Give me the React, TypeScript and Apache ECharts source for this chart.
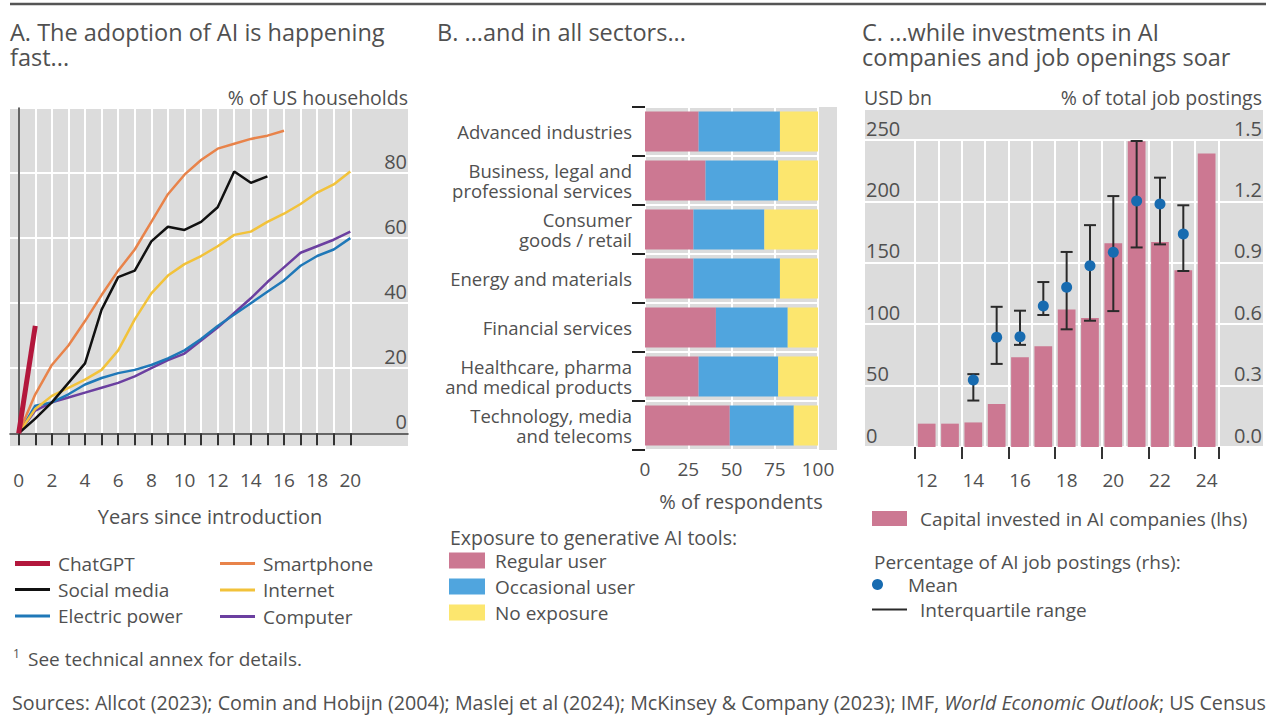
import React, { useEffect, useRef } from "react";
import * as echarts from "echarts";

const FONT = '"Open Sans", "Noto Sans", sans-serif';
const TXT = "#505050";
const GRAY = "#dcdcdc";
const FS = 19;

// ---------- Panel A: adoption curves (% of US households) ----------
const yearsA = [0, 1, 2, 3, 4, 5, 6, 7, 8, 9, 10, 11, 12, 13, 14, 15, 16, 17, 18, 19, 20];
const chatgpt = [0, 33];
const socialMedia = [0, 4.5, 9.5, 15.5, 21.5, 38, 48, 50, 59, 63.5, 62.5, 65, 69.5, 80.5, 77, 79];
const electricPower = [0, 8.5, 9.5, 12, 15, 17, 18.5, 19.5, 21, 23, 25.5, 29, 33, 36.5, 40, 43.5, 47, 51.5, 54.5, 56.5, 60];
const smartphone = [0, 12, 21, 27, 34.5, 42.5, 50, 56.5, 65, 73.5, 79.5, 84, 87.5, 89, 90.5, 91.5, 93];
const internet = [0, 7.5, 11.5, 14, 16.5, 19.5, 25.5, 35, 43, 48.5, 52, 54.5, 57.5, 61, 62, 65, 67.5, 70.5, 74, 76.5, 80.5];
const computer = [0, 7, 9.5, 11, 12.5, 14, 15.5, 17.5, 20, 22.5, 24.5, 28.5, 32.5, 37, 41.5, 46.5, 51, 55.5, 57.5, 59.5, 62];

// ---------- Panel B: exposure by sector (% of respondents) ----------
const sectors = [
  "Advanced industries",
  "Business, legal and\nprofessional services",
  "Consumer\ngoods / retail",
  "Energy and materials",
  "Financial services",
  "Healthcare, pharma\nand medical products",
  "Technology, media\nand telecoms",
];
const regularUser = [31, 35, 28, 28, 41, 31, 49];
const occasionalUser = [47, 42, 41, 50, 41.5, 46, 37];
const noExposure = [22, 23, 31, 22, 17.5, 23, 14];

// ---------- Panel C: investment and job postings ----------
const yearsC = ["12", "13", "14", "15", "16", "17", "18", "19", "20", "21", "22", "23", "24"];
const capital = [19, 19, 20, 35, 73, 82, 112, 105, 166, 249, 167, 144, 239];
const meanShare = [null, null, 0.327, 0.536, 0.539, 0.689, 0.78, 0.886, 0.951, 1.202, 1.187, 1.041, null];
const iqrLow = [null, null, 0.227, 0.406, 0.499, 0.645, 0.575, 0.617, 0.664, 0.975, 0.99, 0.86, null];
const iqrHigh = [null, null, 0.356, 0.685, 0.666, 0.806, 0.953, 1.084, 1.226, 1.495, 1.316, 1.181, null];

const C_PINK = "#cc7892";
const C_BLUE = "#50a5de";
const C_YELLOW = "#fce66e";

const pairs = (vals: number[]) => vals.map((v, i) => [yearsA[i], v]);

function txt(text: string, x: number, y: number, size: number, align = "left", extra: any = {}) {
  return {
    type: "text",
    x,
    y,
    z: 10,
    style: {
      text,
      fill: TXT,
      fontSize: size,
      fontFamily: FONT,
      align,
      textAlign: align,
      verticalAlign: "middle",
      textVerticalAlign: "middle",
      ...extra,
    },
  };
}

const legendText = (pad: number) => ({
  fontSize: FS, color: TXT, lineHeight: 18, fontFamily: FONT, padding: [0, 0, 0, pad],
});

export default function App() {
  const ref = useRef<HTMLDivElement>(null);
  useEffect(() => {
    if (!ref.current) return;
    const chart = echarts.init(ref.current, null, { renderer: "svg" });
    const lineSeries = (name: string, vals: number[], color: string, width = 2.5) => ({
      name,
      type: "line",
      xAxisIndex: 0,
      yAxisIndex: 0,
      data: pairs(vals),
      symbol: "none",
      showSymbol: false,
      lineStyle: { color, width },
      itemStyle: { color },
      z: 3,
    });
    const lineLegend = (names: string[], left: number, top: number, h: number, gap: number) => ({
      data: names, left, top, orient: "vertical", padding: 0, icon: "rect",
      itemWidth: 35, itemHeight: h, itemGap: gap, selectedMode: false,
      textStyle: legendText(3),
    });
    const option: any = {
      animation: false,
      textStyle: { fontFamily: FONT },
      grid: [
        { left: 18.7, top: 108, width: 331.6, height: 325.3 },
        { left: 10, top: 108, width: 398, height: 325.3 },
        { left: 645, top: 107, width: 173, height: 343 },
        { left: 865, top: 140, width: 398, height: 307 },
        { left: 915, top: 140, width: 303.3, height: 307 },
      ],
      xAxis: [
        {
          gridIndex: 0, type: "value", min: 0, max: 20, interval: 1, offset: 20,
          axisLine: { show: false },
          axisTick: { show: true, length: 12, lineStyle: { color: "#333", width: 2 } },
          axisLabel: { margin: 17, fontSize: FS, color: TXT, formatter: (v: number) => (v % 2 === 0 ? String(v) : "") },
          splitLine: { show: true, lineStyle: { color: "#fff", width: 2 } },
        },
        {
          gridIndex: 1, type: "value", min: 0, max: 1,
          axisLine: { show: true, lineStyle: { color: "#333", width: 1.5 } },
          axisTick: { show: false }, axisLabel: { show: false }, splitLine: { show: false },
        },
        {
          gridIndex: 2, type: "value", min: 0, max: 100, interval: 25,
          axisLine: { show: false }, axisTick: { show: false },
          axisLabel: { margin: 9, fontSize: FS, color: TXT },
          splitLine: { show: true, lineStyle: { color: "#fff", width: 2 } },
        },
        { gridIndex: 3, type: "value", min: 0, max: 1, show: false },
        {
          gridIndex: 4, type: "category", data: yearsC, offset: 6,
          axisLine: { show: false },
          axisTick: { show: true, length: 12, lineStyle: { color: "#333", width: 2 } },
          axisLabel: { interval: 1, margin: 17, fontSize: FS, color: TXT },
          splitLine: { show: true, interval: 0, lineStyle: { color: "#fff", width: 2 } },
        },
      ],
      yAxis: [
        {
          gridIndex: 0, type: "value", min: 0, max: 100,
          axisLine: { show: true, lineStyle: { color: "#333", width: 1.5 } },
          axisTick: { show: false }, axisLabel: { show: false }, splitLine: { show: false },
        },
        {
          gridIndex: 1, type: "value", min: 0, max: 100, interval: 20, position: "right",
          axisLine: { show: false }, axisTick: { show: false },
          axisLabel: {
            inside: true, margin: 1, fontSize: 20, color: TXT, verticalAlign: "bottom", padding: [0, 0, 2, 0],
            formatter: (v: number) => (v === 100 ? "" : String(v)),
          },
          splitLine: { show: true, lineStyle: { color: "#fff", width: 2 } },
        },
        {
          gridIndex: 2, type: "category", data: sectors, inverse: true, offset: 3,
          axisLine: { show: false },
          axisTick: { show: true, length: 13, lineStyle: { color: "#222", width: 2 } },
          axisLabel: { margin: 10, fontSize: 18.5, color: TXT, lineHeight: 19.5 },
          splitLine: { show: true, lineStyle: { color: "#fff", width: 2 } },
        },
        {
          gridIndex: 3, type: "value", min: 0, max: 250, interval: 50, position: "left",
          axisLine: { show: false }, axisTick: { show: false },
          axisLabel: { inside: true, margin: 1, fontSize: 20, color: TXT, verticalAlign: "bottom", padding: [0, 0, 2, 0] },
          splitLine: { show: true, lineStyle: { color: "#fff", width: 2 } },
        },
        {
          gridIndex: 3, type: "value", min: 0, max: 1.5, interval: 0.3, position: "right",
          axisLine: { show: false }, axisTick: { show: false },
          axisLabel: {
            inside: true, margin: 1, fontSize: 20, color: TXT, verticalAlign: "bottom", padding: [0, 0, 2, 0],
            formatter: (v: number) => v.toFixed(1),
          },
          splitLine: { show: false },
        },
        { gridIndex: 4, type: "value", min: 0, max: 250, show: false },
        { gridIndex: 4, type: "value", min: 0, max: 1.5, show: false },
      ],
      legend: [
        lineLegend(["ChatGPT"], 15, 554, 5, 7),
        lineLegend(["Social media", "Electric power"], 15, 580, 3, 7.5),
        lineLegend(["Smartphone", "Internet", "Computer"], 220, 554, 3, 7.5),
        {
          data: ["Regular user", "Occasional user", "No exposure"], left: 449, top: 551, orient: "vertical",
          padding: 0, icon: "rect", itemWidth: 36, itemHeight: 16, itemGap: 7, selectedMode: false,
          textStyle: legendText(5),
        },
        {
          data: ["Capital invested in AI companies (lhs)"], left: 872, top: 509, icon: "rect", padding: 0,
          itemWidth: 35, itemHeight: 15, selectedMode: false, textStyle: legendText(8),
        },
        {
          data: ["Mean"], left: 872, top: 575, icon: "circle", itemWidth: 35, itemHeight: 11, padding: 0,
          selectedMode: false, textStyle: legendText(8),
        },
        {
          data: ["Interquartile range"], left: 872, top: 600, icon: "rect", itemWidth: 35, itemHeight: 2, padding: 0,
          selectedMode: false, textStyle: legendText(8),
        },
      ],
      series: [
        lineSeries("Computer", computer, "#6b3fa0"),
        lineSeries("Electric power", electricPower, "#1f78b8"),
        lineSeries("Internet", internet, "#f2c23a"),
        lineSeries("Smartphone", smartphone, "#e8834a"),
        lineSeries("Social media", socialMedia, "#111111"),
        lineSeries("ChatGPT", chatgpt, "#b3173c", 5),
        {
          name: "Regular user", type: "bar", stack: "b", xAxisIndex: 2, yAxisIndex: 2,
          data: regularUser, barCategoryGap: "18%", itemStyle: { color: C_PINK },
        },
        {
          name: "Occasional user", type: "bar", stack: "b", xAxisIndex: 2, yAxisIndex: 2,
          data: occasionalUser, barCategoryGap: "18%", itemStyle: { color: C_BLUE },
        },
        {
          name: "No exposure", type: "bar", stack: "b", xAxisIndex: 2, yAxisIndex: 2,
          data: noExposure, barCategoryGap: "18%", itemStyle: { color: C_YELLOW },
        },
        {
          name: "Capital invested in AI companies (lhs)", type: "bar", xAxisIndex: 4, yAxisIndex: 5,
          data: capital, barCategoryGap: "24%", itemStyle: { color: C_PINK },
        },
        {
          name: "Interquartile range", type: "custom", xAxisIndex: 4, yAxisIndex: 6,
          itemStyle: { color: "#2a2a2a" },
          encode: { x: 0, y: [1, 2] },
          data: yearsC
            .map((y, i) => (iqrLow[i] == null ? null : [i, iqrLow[i], iqrHigh[i]]))
            .filter((d) => d !== null),
          renderItem: (params: any, api: any) => {
            const x = api.value(0);
            const lo = api.coord([x, api.value(1)]);
            const hi = api.coord([x, api.value(2)]);
            const w = 6;
            const st = { stroke: "#2a2a2a", lineWidth: 2 };
            return {
              type: "group",
              children: [
                { type: "line", shape: { x1: lo[0], y1: lo[1], x2: hi[0], y2: hi[1] }, style: st },
                { type: "line", shape: { x1: lo[0] - w, y1: lo[1], x2: lo[0] + w, y2: lo[1] }, style: st },
                { type: "line", shape: { x1: hi[0] - w, y1: hi[1], x2: hi[0] + w, y2: hi[1] }, style: st },
              ],
            };
          },
          z: 4,
        },
        {
          name: "Mean", type: "scatter", xAxisIndex: 4, yAxisIndex: 6,
          data: meanShare.map((v) => (v == null ? "-" : v)),
          symbol: "circle", symbolSize: 11, itemStyle: { color: "#176bb0", opacity: 1 }, z: 5,
        },
      ],
      graphic: [
        { type: "line", z: 10, shape: { x1: 10, y1: 4, x2: 1266, y2: 4 }, style: { stroke: "#555", lineWidth: 2.5 } },
        { type: "rect", z: -10, shape: { x: 10, y: 108, width: 398, height: 338 }, style: { fill: GRAY } },
        { type: "rect", z: -10, shape: { x: 645, y: 107, width: 192, height: 343 }, style: { fill: GRAY } },
        { type: "rect", z: -10, shape: { x: 865, y: 110, width: 398, height: 337 }, style: { fill: GRAY } },
        txt("A. The adoption of AI is happening", 10, 32, 23.5),
        txt("fast...", 10, 57, 23.5),
        txt("% of US households", 408, 97, 19.5, "right"),
        txt("Years since introduction", 210, 516, 20, "center"),
        txt("B. ...and in all sectors...", 437, 32, 23.5),
        txt("% of respondents", 741, 501, 20, "center"),
        txt("Exposure to generative AI tools:", 450, 537, 19.5),
        txt("C. ...while investments in AI", 862, 32, 23.5),
        txt("companies and job openings soar", 862, 57, 23.5),
        txt("USD bn", 864, 97, 19.5),
        txt("% of total job postings", 1262, 97, 19.5, "right"),
        txt("Percentage of AI job postings (rhs):", 874, 562, 19),
        txt("1", 13, 653, 12),
        txt("See technical annex for details.", 28, 659, 19),
        txt("Sources: Allcot (2023); Comin and Hobijn (2004); Maslej et al (2024); McKinsey & Company (2023); IMF, {i|World Economic Outlook}; US Census", 12, 702, 19.7, "left", {
          rich: { i: { fontStyle: "italic", fontSize: 19.7, fontFamily: FONT, fill: TXT } },
        }),
      ],
    };
    chart.setOption(option);
    return () => chart.dispose();
  }, []);
  return (
    <div
      ref={ref}
      style={{ position: "fixed", left: 0, top: 0, width: 1280, height: 720, background: "#fff" }}
    />
  );
}
